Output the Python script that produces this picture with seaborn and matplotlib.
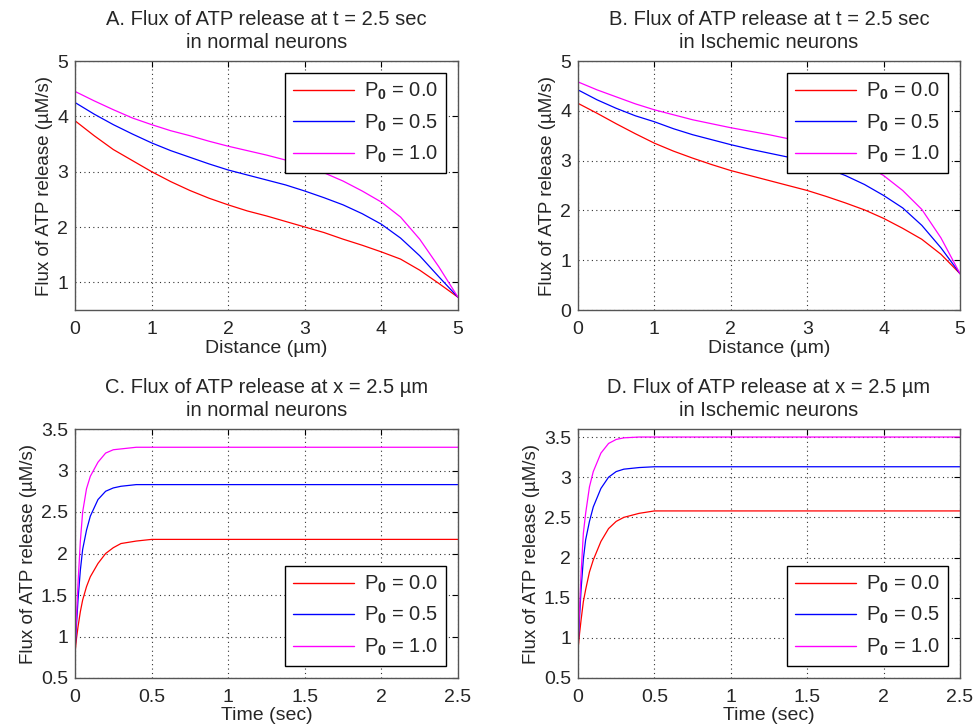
import numpy as np
import pandas as pd
import matplotlib
matplotlib.use("Agg")
import matplotlib.pyplot as plt
import seaborn as sns

# ---------------- data ----------------
labels = ["P$_\\mathbf{0}$ = 0.0", "P$_\\mathbf{0}$ = 0.5", "P$_\\mathbf{0}$ = 1.0"]
colors = ["#ff0000", "#0000ff", "#ff00ff"]

dist = [0, 0.25, 0.5, 0.75, 1, 1.25, 1.5, 1.75, 2, 2.25, 2.5, 2.75, 3,
        3.25, 3.5, 3.75, 4, 4.25, 4.5, 4.75, 5]
A_p00 = [3.92, 3.65, 3.40, 3.20, 3.00, 2.82, 2.66, 2.52, 2.40, 2.29, 2.20, 2.10, 2.00,
         1.90, 1.78, 1.67, 1.55, 1.42, 1.22, 0.98, 0.73]
A_p05 = [4.25, 4.04, 3.85, 3.68, 3.52, 3.38, 3.26, 3.14, 3.03, 2.94, 2.85, 2.76, 2.65,
         2.53, 2.40, 2.24, 2.05, 1.80, 1.48, 1.10, 0.73]
A_p10 = [4.45, 4.28, 4.12, 3.97, 3.85, 3.74, 3.65, 3.55, 3.46, 3.38, 3.30, 3.21, 3.10,
         2.98, 2.83, 2.65, 2.45, 2.18, 1.78, 1.28, 0.73]

B_p00 = [4.15, 3.95, 3.74, 3.54, 3.35, 3.19, 3.05, 2.92, 2.80, 2.70, 2.60, 2.50, 2.40,
         2.28, 2.15, 2.01, 1.84, 1.64, 1.42, 1.12, 0.73]
B_p05 = [4.42, 4.22, 4.05, 3.90, 3.78, 3.64, 3.52, 3.42, 3.32, 3.23, 3.15, 3.07, 2.98,
         2.85, 2.70, 2.52, 2.30, 2.05, 1.70, 1.25, 0.73]
B_p10 = [4.58, 4.42, 4.28, 4.14, 4.02, 3.92, 3.82, 3.74, 3.66, 3.59, 3.52, 3.44, 3.35,
         3.24, 3.10, 2.92, 2.70, 2.40, 2.02, 1.45, 0.73]

time = [0, 0.01, 0.02, 0.035, 0.05, 0.075, 0.1, 0.15, 0.2, 0.25, 0.3, 0.4, 0.5, 1.0, 1.5, 2.0, 2.5]
C_p00 = [0.80, 0.98, 1.12, 1.30, 1.44, 1.60, 1.72, 1.88, 2.00, 2.07, 2.12, 2.15, 2.17, 2.17, 2.17, 2.17, 2.17]
C_p05 = [0.82, 1.15, 1.45, 1.80, 2.05, 2.28, 2.45, 2.65, 2.75, 2.79, 2.81, 2.83, 2.83, 2.83, 2.83, 2.83, 2.83]
C_p10 = [0.84, 1.25, 1.65, 2.15, 2.50, 2.78, 2.93, 3.10, 3.21, 3.25, 3.26, 3.28, 3.28, 3.28, 3.28, 3.28, 3.28]

D_p00 = [0.85, 1.05, 1.22, 1.45, 1.60, 1.82, 1.97, 2.20, 2.36, 2.45, 2.50, 2.55, 2.58, 2.58, 2.58, 2.58, 2.58]
D_p05 = [0.87, 1.25, 1.60, 1.98, 2.22, 2.45, 2.63, 2.86, 3.00, 3.07, 3.10, 3.12, 3.13, 3.13, 3.13, 3.13, 3.13]
D_p10 = [0.88, 1.35, 1.80, 2.30, 2.55, 2.88, 3.07, 3.30, 3.42, 3.47, 3.49, 3.50, 3.50, 3.50, 3.50, 3.50, 3.50]

titles = ["A. Flux of ATP release at t = 2.5 sec\nin normal neurons",
          "B. Flux of ATP release at t = 2.5 sec\nin Ischemic neurons",
          "C. Flux of ATP release at x = 2.5 \u00b5m\nin normal neurons",
          "D. Flux of ATP release at x = 2.5 \u00b5m\nin Ischemic neurons"]
ylabel = "Flux of ATP release (\u00b5M/s)"

# ---------------- style ----------------
sns.set_style("white")
plt.rcParams["font.family"] = ["Liberation Sans", "DejaVu Sans"]
plt.rcParams["mathtext.fontset"] = "custom"
plt.rcParams["mathtext.rm"] = "Liberation Sans"
plt.rcParams["mathtext.it"] = "Liberation Sans"
plt.rcParams["mathtext.bf"] = "Liberation Sans:bold"


def long_df(x, series):
    frames = []
    for lab, ys in zip(labels, series):
        frames.append(pd.DataFrame({"x": x, "y": ys, "P0": lab}))
    return pd.concat(frames, ignore_index=True)


fig = plt.figure(figsize=(9.75, 7.28), dpi=100)
W, H = 975, 728


def add_axes(l, r, t, b):
    return fig.add_axes([l / W, 1 - b / H, (r - l) / W, (b - t) / H])


axA = add_axes(75, 458, 61, 310)
axB = add_axes(578, 960, 61, 310)
axC = add_axes(75, 458, 429, 678)
axD = add_axes(578, 960, 429, 678)

panels = [
    (axA, long_df(dist, [A_p00, A_p05, A_p10]), (0, 5), (0.5, 5), [0, 1, 2, 3, 4, 5], [1, 2, 3, 4, 5], "Distance (\u00b5m)", "upper right"),
    (axB, long_df(dist, [B_p00, B_p05, B_p10]), (0, 5), (0, 5), [0, 1, 2, 3, 4, 5], [0, 1, 2, 3, 4, 5], "Distance (\u00b5m)", "upper right"),
    (axC, long_df(time, [C_p00, C_p05, C_p10]), (0, 2.5), (0.5, 3.5), [0, 0.5, 1, 1.5, 2, 2.5], [0.5, 1, 1.5, 2, 2.5, 3, 3.5], "Time (sec)", "lower right"),
    (axD, long_df(time, [D_p00, D_p05, D_p10]), (0, 2.5), (0.5, 3.6), [0, 0.5, 1, 1.5, 2, 2.5], [0.5, 1, 1.5, 2, 2.5, 3, 3.5], "Time (sec)", "lower right"),
]

for (ax, df, xl, yl, xt, yt, xlab, loc), title in zip(panels, titles):
    sns.lineplot(data=df, x="x", y="y", hue="P0", palette=colors, ax=ax,
                 sort=False, estimator=None, linewidth=0.9)
    ax.set_xlim(*xl)
    ax.set_ylim(*yl)
    ax.set_xticks(xt)
    ax.set_yticks(yt)
    ax.set_xticklabels([f"{v:g}" for v in xt])
    ax.set_yticklabels([f"{v:g}" for v in yt])
    ax.grid(True, linestyle=(0, (1, 3)), color="#333333", linewidth=0.8)
    ax.tick_params(direction="in", top=True, right=True, labelsize=14,
                   length=4, width=0.8, color="black")
    ax.tick_params(axis="x", pad=8)
    ax.tick_params(axis="y", pad=5)
    for s in ax.spines.values():
        s.set_visible(True)
        s.set_color("#555555")
        s.set_linewidth(1.0)
    ax.set_xlabel(xlab, fontsize=14, labelpad=1)
    ax.set_ylabel(ylabel, fontsize=13.5, labelpad=3)
    ax.set_title(title, fontsize=14.5, pad=9, linespacing=1.3)
    leg = ax.legend(loc=loc, fontsize=14.5, frameon=True, fancybox=False,
                    framealpha=1, edgecolor="black", handlelength=3.0,
                    labelspacing=0.5, borderaxespad=0.6, handletextpad=0.5,
                    borderpad=0.4, title=None)
    leg.get_frame().set_linewidth(1.0)
    for h in leg.get_lines():
        h.set_linewidth(1.0)

fig.savefig("out.png", dpi=100)
